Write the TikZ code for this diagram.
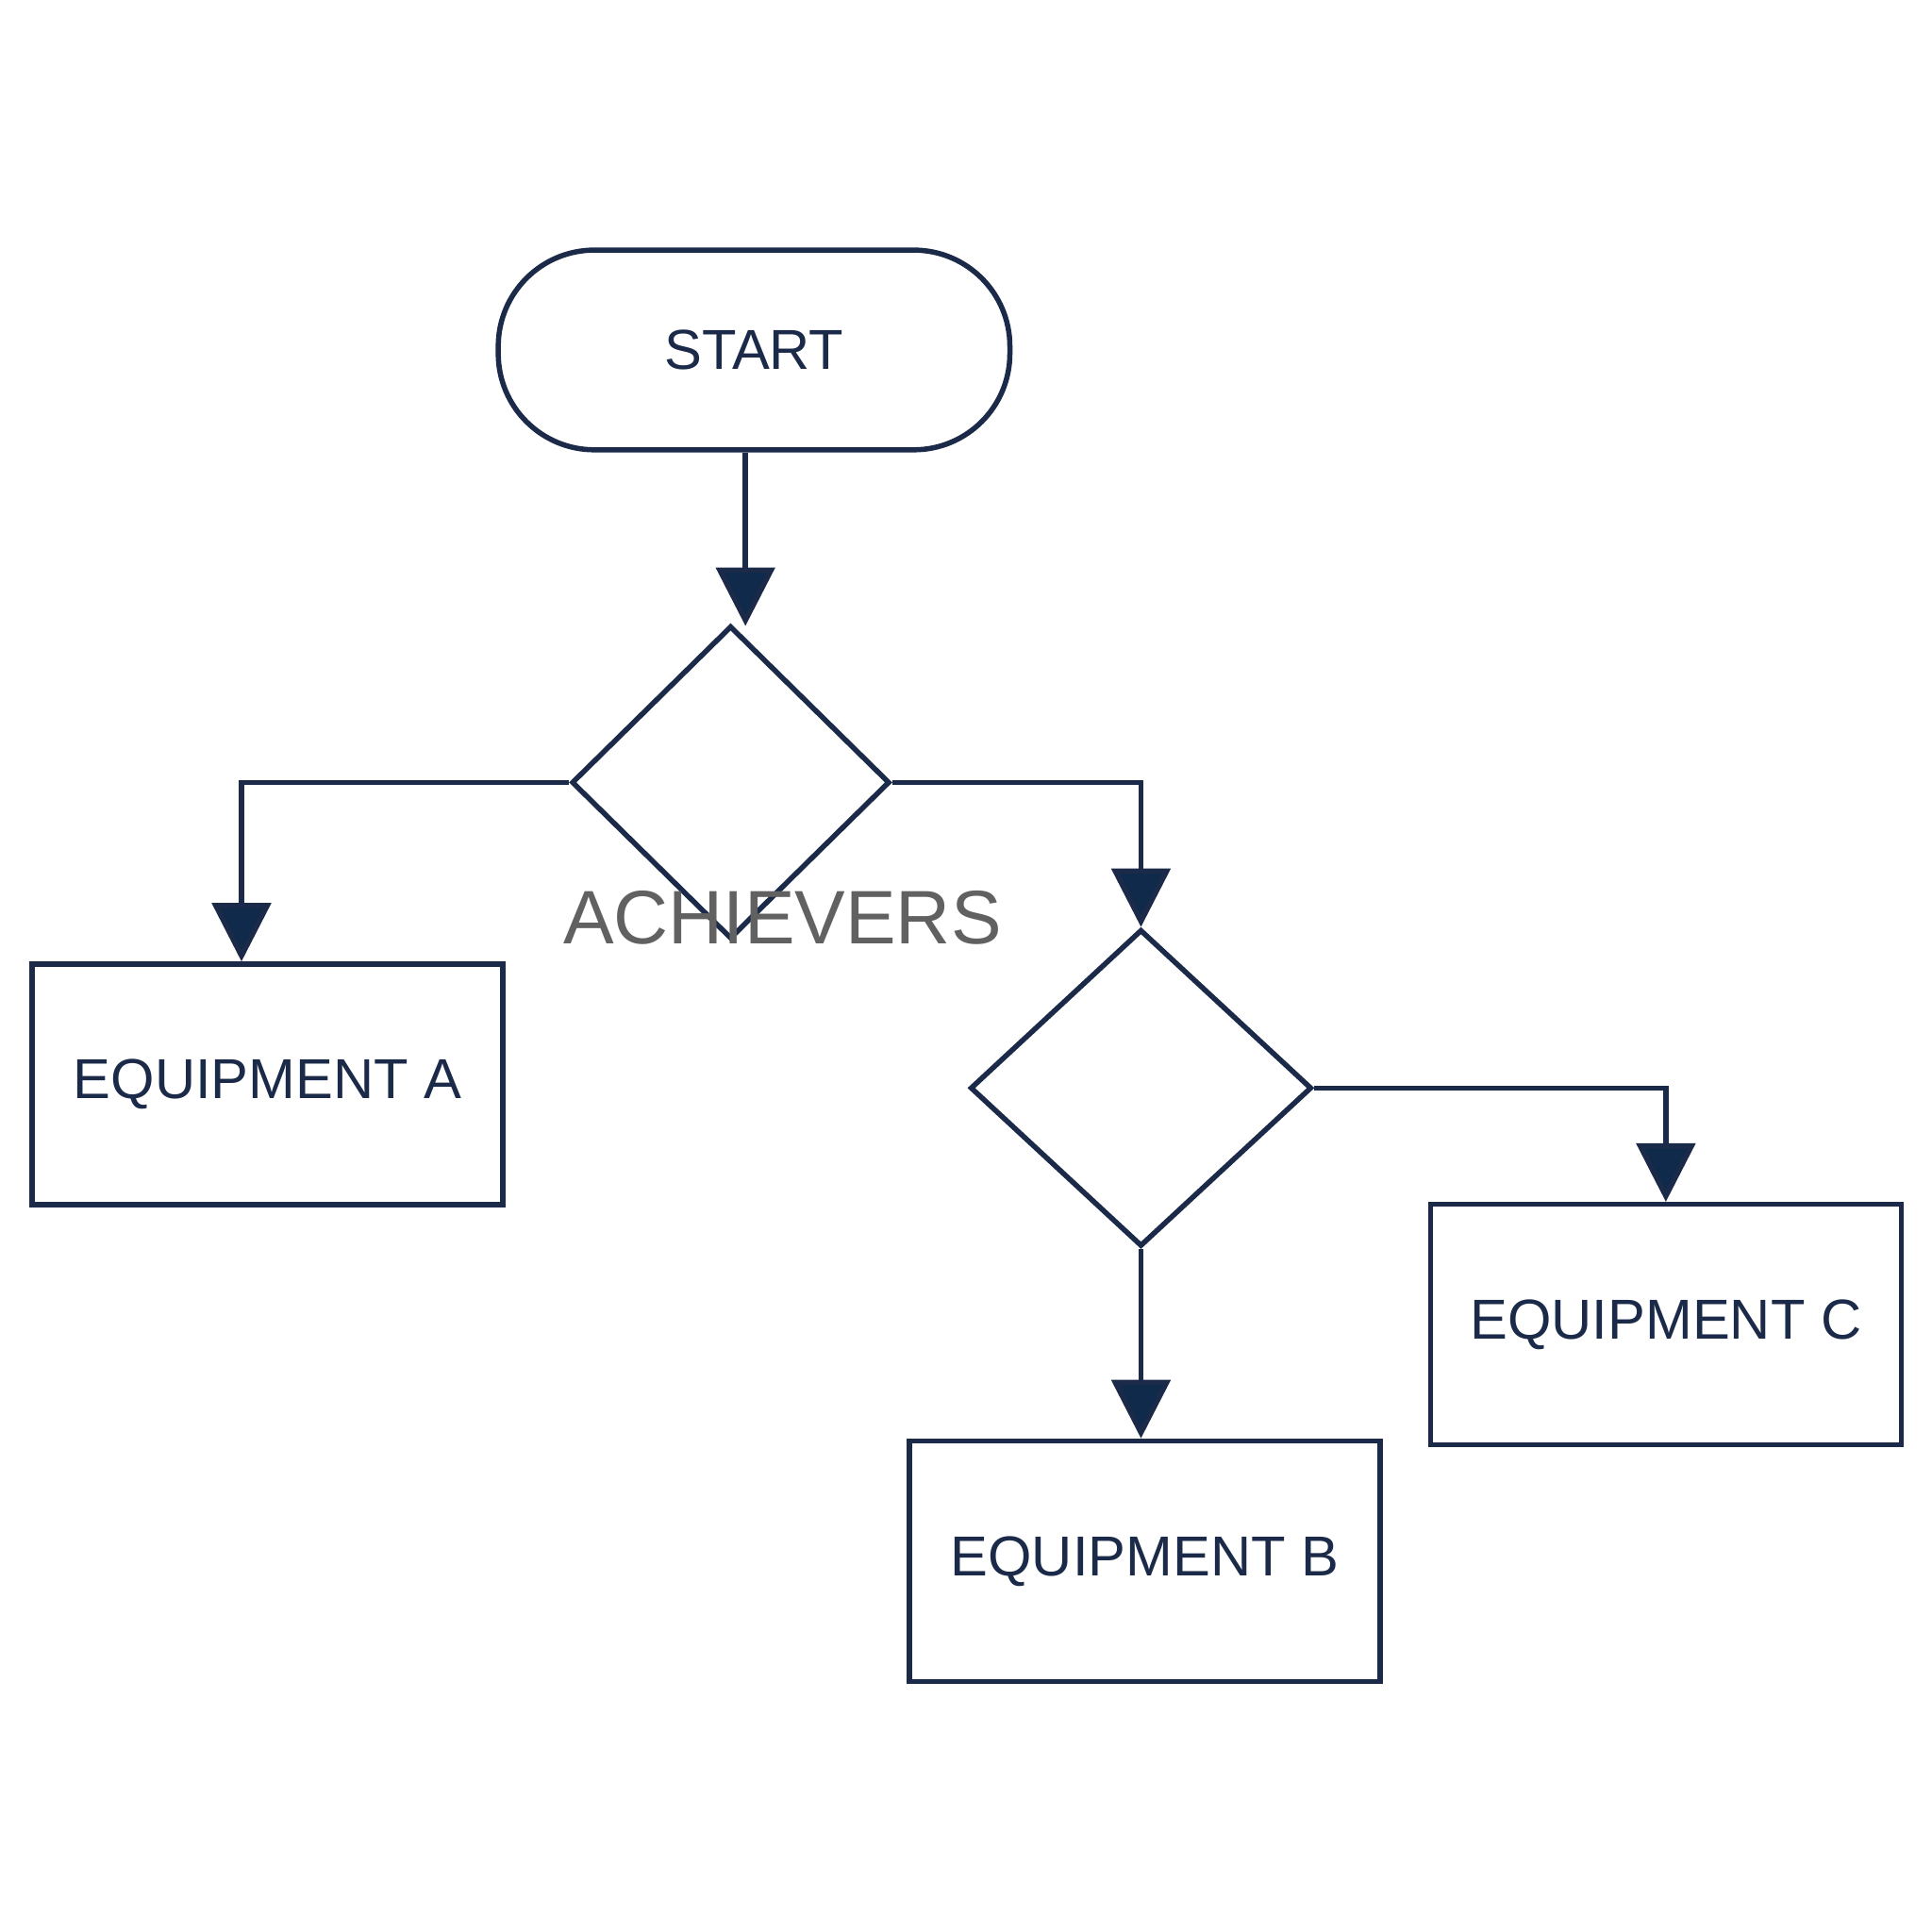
\documentclass[tikz,border=0pt]{standalone}
\usepackage{fontspec}
\setmainfont{Liberation Sans}
\usetikzlibrary{shapes.geometric,arrows.meta}
\definecolor{navy}{HTML}{1B2A48}
\definecolor{arr}{HTML}{0F2A4A}
\begin{document}
\begin{tikzpicture}[x=0.01cm,y=-0.01cm,
  ln/.style={draw=navy,line width=1.2pt},
  box/.style={ln,rectangle,minimum width=3.82cm,minimum height=1.95cm,font=\fontsize{13}{15}\selectfont,text=navy},
  dia/.style={ln,diamond,inner sep=0pt},
  con/.style={ln,-{Triangle[length=13.5pt,width=13.5pt,fill=arr]}}]
\useasboundingbox (0,0) rectangle (1568,1568);
\fill[white] (0,0) rectangle (1568,1568);
\node[ln,rectangle,rounded corners=0.78cm,minimum width=4.15cm,minimum height=1.62cm,font=\fontsize{13}{15}\selectfont,text=navy] (start) at (612,284) {START};
\node[dia,minimum width=2.58cm,minimum height=2.54cm] (d1) at (593,635) {};
\node[dia,minimum width=2.77cm,minimum height=2.57cm] (d2) at (926,883) {};
\node[box] (a) at (217,880) {EQUIPMENT A};
\node[box] (b) at (929,1267) {EQUIPMENT B};
\node[box] (c) at (1352,1075) {EQUIPMENT C};
\node[text=black!62,font=\fontsize{17.5}{20}\selectfont] (ach) at (635,745) {ACHIEVERS};
\draw[con] (start.south -| 605,0) -- (605,508);
\draw[con] (d1.west) -| (a.north -| 196,0);
\draw[con] (d1.east) -| (d2.north);
\draw[con] (d2.south) -- (d2.south |- b.north);
\draw[con] (d2.east) -| (c.north);
\end{tikzpicture}
\end{document}
